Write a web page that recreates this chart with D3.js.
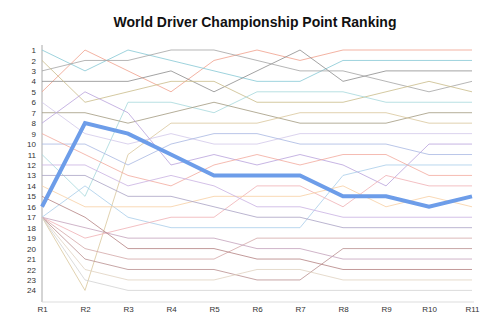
<!DOCTYPE html>
<html>
<head>
<meta charset="utf-8">
<script src="https://cdn.jsdelivr.net/npm/d3@7"></script>
<style>
  html, body { margin: 0; padding: 0; background: #fff; }
  svg { display: block; font-family: "Liberation Sans", Arial, sans-serif; }
</style>
</head>
<body>
<svg id="chart" width="500" height="333"></svg>
<script>
// Rounds of the season
const rounds = ["R1", "R2", "R3", "R4", "R5", "R6", "R7", "R8", "R9", "R10", "R11"];
const rankTicks = d3.range(1, 25);

// Championship position of each driver after every round
const driverA = [5, 1, 3, 5, 2, 1, 2, 1, 1, 1, 1];
const driverB = [1, 3, 1, 2, 3, 4, 4, 2, 2, 2, 2];
const driverC = [4, 4, 4, 3, 5, 3, 1, 4, 3, 3, 3];
const driverD = [3, 2, 2, 1, 1, 2, 3, 3, 4, 5, 4];
const driverE = [2, 6, 5, 4, 4, 6, 6, 6, 5, 4, 5];
const driverF = [11, 15, 6, 6, 7, 5, 5, 5, 6, 6, 6];
const driverG = [7, 7, 8, 7, 6, 7, 8, 8, 8, 7, 7];
const driverH = [17, 24, 11, 8, 8, 8, 7, 7, 7, 8, 8];
const driverI = [6, 9, 10, 9, 10, 10, 9, 9, 9, 9, 9];
const driverJ = [8, 5, 7, 12, 11, 12, 11, 12, 14, 10, 10];
const driverK = [10, 10, 12, 10, 9, 9, 10, 10, 10, 11, 11];
const driverL = [17, 14, 17, 18, 18, 18, 18, 13, 12, 12, 12];
const driverM = [9, 11, 13, 14, 12, 11, 12, 11, 11, 13, 13];
const driverN = [17, 19, 18, 17, 17, 14, 14, 16, 13, 14, 14];
const driverO = [16, 8, 9, 11, 13, 13, 13, 15, 15, 16, 15];
const driverP = [14, 16, 16, 16, 15, 15, 15, 14, 16, 15, 16];
const driverQ = [12, 12, 14, 13, 14, 16, 16, 17, 17, 17, 17];
const driverR = [13, 13, 15, 15, 16, 17, 17, 18, 18, 18, 18];
const driverS = [17, 20, 21, 21, 21, 19, 19, 19, 19, 19, 19];
const driverT = [17, 21, 22, 22, 22, 23, 23, 20, 20, 20, 20];
const driverU = [17, 18, 19, 19, 19, 20, 20, 21, 21, 21, 21];
const driverV = [15, 17, 20, 20, 20, 21, 21, 22, 22, 22, 22];
const driverW = [17, 22, 23, 23, 23, 22, 22, 23, 23, 23, 23];
const driverX = [17, 23, 24, 24, 24, 24, 24, 24, 24, 24, 24];

const series = [driverA, driverB, driverC, driverD, driverE, driverF, driverG, driverH,
  driverI, driverJ, driverK, driverL, driverM, driverN, driverO, driverP,
  driverQ, driverR, driverS, driverT, driverU, driverV, driverW, driverX];

const lineColors = ["#f0a08c", "#86c8d4", "#8c8c8c", "#a4a4a4", "#c9bb8a", "#a6d8dc",
  "#a39a80", "#d9c79c", "#d2c8ea", "#b9a2dc", "#a9b8e2", "#a9cdea",
  "#f2aa9e", "#f0b0b4", "#6d9de9", "#f7cfa4", "#c9b2e2", "#aaa2c4",
  "#d3a8a8", "#b99090", "#c4a2bc", "#b48282", "#e0d2c0", "#d2d2d2"];

const highlighted = 14; // index of the driver drawn with the heavy line

const svg = d3.select("#chart");

const x = d3.scalePoint().domain(rounds).range([42, 472]);
const y = d3.scaleLinear().domain([1, 24]).range([50, 290.4]);

// Title
svg.append("text")
  .attr("x", 255)
  .attr("y", 27)
  .attr("text-anchor", "middle")
  .attr("font-size", 14)
  .attr("font-weight", "bold")
  .attr("fill", "#111")
  .text("World Driver Championship Point Ranking");

// Axes
const yAxis = svg.append("g")
  .attr("transform", "translate(42,0)")
  .call(d3.axisLeft(y).tickValues(rankTicks).tickSize(0).tickPadding(6).tickFormat(d3.format("d")));
yAxis.select(".domain").attr("stroke", "#aaa").attr("d", "M0,45V302");
yAxis.selectAll("text").attr("font-size", 8).attr("fill", "#333")
  .attr("font-family", "Liberation Sans, Arial, sans-serif");

const xAxis = svg.append("g")
  .attr("transform", "translate(0,302)")
  .call(d3.axisBottom(x).tickSize(0).tickPadding(4));
xAxis.select(".domain").attr("stroke", "#ddd").attr("d", "M42,0H474");
xAxis.selectAll("text").attr("font-size", 8).attr("fill", "#333")
  .attr("font-family", "Liberation Sans, Arial, sans-serif");

// Ranking lines
const line = d3.line()
  .x((d, i) => x(rounds[i]))
  .y(d => y(d));

const order = d3.range(series.length).filter(i => i !== highlighted).concat([highlighted]);

svg.append("g")
  .attr("fill", "none")
  .selectAll("path")
  .data(order)
  .join("path")
  .attr("d", i => line(series[i]))
  .attr("stroke", i => lineColors[i])
  .attr("stroke-width", i => i === highlighted ? 4 : 1)
  .attr("stroke-linejoin", "miter")
  .attr("stroke-opacity", i => i === highlighted ? 1 : 0.8);
</script>
</body>
</html>
